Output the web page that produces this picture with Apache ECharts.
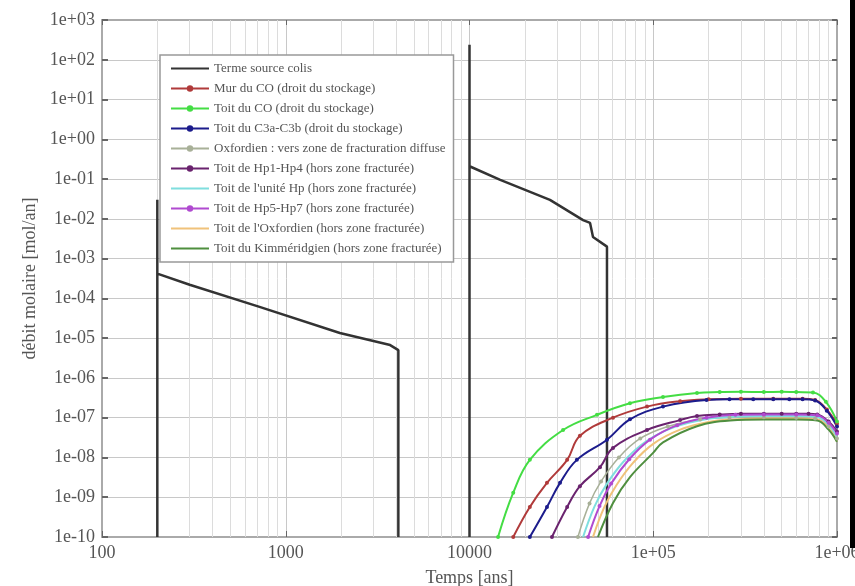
<!DOCTYPE html>
<html><head><meta charset="utf-8">
<script src="https://cdn.jsdelivr.net/npm/echarts@6/dist/echarts.min.js"></script>
<style>html,body{margin:0;padding:0;background:#fff}#c{width:855px;height:586px}</style>
</head><body><div id="c"></div>
<script>
// ---- data (time in years, molar flux in mol/an) ----
const seriesNames = [
  "Terme source colis",
  "Mur du CO (droit du stockage)",
  "Toit du CO (droit du stockage)",
  "Toit du C3a-C3b (droit du stockage)",
  "Oxfordien : vers zone de fracturation diffuse",
  "Toit de Hp1-Hp4 (hors zone fracturée)",
  "Toit de l'unité Hp (hors zone fracturée)",
  "Toit de Hp5-Hp7 (hors zone fracturée)",
  "Toit de l'Oxfordien (hors zone fracturée)",
  "Toit du Kimméridgien (hors zone fracturée)"
];
const sourcePulse1 = [[200,1e-10],[200,3.0e-2],[200,4.2e-4],[300,2.2e-4],[720,6.1e-5],[1970,1.35e-5],[3700,6.7e-6],[4100,5.0e-6],[4100,1e-10]];
const sourcePulse2 = [[10000,1e-10],[10000,2.4e2],[10000,0.21],[14700,0.095],[27400,0.030],[41500,0.0093],[45300,0.0079],[47000,0.0035],[56000,0.0020],[56000,1e-10]];
const murCO = [[17300,1e-10],[21300,5.7e-10],[26400,2.3e-9],[34000,8.7e-9],[39900,3.5e-8],[60400,1.0e-7],[92500,1.9e-7],[140000,2.6e-7],[200000,2.9e-7],[300000,3.0e-7],[450000,3.0e-7],[650000,3.0e-7],[760000,2.8e-7],[880000,1.6e-7],[1000000,7e-8]];
const toitCO = [[14300,1e-10],[17300,1.3e-9],[21300,8.7e-9],[32300,4.9e-8],[49400,1.18e-7],[74700,2.3e-7],[113000,3.3e-7],[173000,4.2e-7],[230000,4.4e-7],[300000,4.5e-7],[400000,4.4e-7],[500000,4.5e-7],[600000,4.4e-7],[740000,4.3e-7],[870000,2.5e-7],[1000000,8e-8]];
const toitC3 = [[21300,1e-10],[26400,5.7e-10],[31100,2.3e-9],[38400,8.7e-9],[56000,2.8e-8],[74700,9.1e-8],[113000,1.9e-7],[195000,2.8e-7],[260000,2.9e-7],[350000,2.9e-7],[450000,2.9e-7],[550000,2.9e-7],[650000,2.9e-7],[760000,2.7e-7],[880000,1.5e-7],[1000000,6e-8]];
const oxfDiffuse = [[38900,1e-10],[45000,7e-10],[52000,2.5e-9],[65000,1e-8],[85000,3e-8],[120000,6e-8],[180000,9e-8],[260000,1.0e-7],[400000,1.02e-7],[600000,1.0e-7],[760000,9.5e-8],[900000,6e-8],[1000000,3e-8]];
const hp1hp4 = [[28100,1e-10],[34000,5.7e-10],[39900,1.9e-9],[51300,5.7e-9],[60400,1.74e-8],[92500,4.9e-8],[140000,8.7e-8],[173000,1.1e-7],[230000,1.2e-7],[300000,1.25e-7],[400000,1.25e-7],[500000,1.25e-7],[600000,1.25e-7],[700000,1.25e-7],[780000,1.2e-7],[900000,8e-8],[1000000,4.5e-8]];
const uniteHp = [[41500,1e-10],[48000,6e-10],[56000,2.2e-9],[70000,8.5e-9],[92000,2.6e-8],[130000,5.8e-8],[190000,9e-8],[270000,1.05e-7],[400000,1.1e-7],[600000,1.1e-7],[770000,1.05e-7],[900000,6.5e-8],[1000000,3e-8]];
const hp5hp7 = [[44200,1e-10],[51000,6e-10],[59000,2.2e-9],[74000,9e-9],[96000,2.8e-8],[135000,6.5e-8],[195000,1.0e-7],[280000,1.18e-7],[400000,1.2e-7],[600000,1.2e-7],[780000,1.15e-7],[900000,7.5e-8],[1000000,4e-8]];
const toitOxf = [[47000,1e-10],[54000,5.5e-10],[63000,2e-9],[78000,7.5e-9],[100000,2.2e-8],[140000,5e-8],[200000,7.8e-8],[280000,9e-8],[400000,9.5e-8],[600000,9.5e-8],[780000,9e-8],[900000,5.5e-8],[1000000,2.5e-8]];
const kimm = [[50000,1e-10],[60400,7.2e-10],[74700,3.2e-9],[99800,1.3e-8],[113000,2.4e-8],[173000,6.1e-8],[262000,8.5e-8],[400000,9e-8],[600000,9e-8],[780000,8.5e-8],[900000,5e-8],[1000000,2.5e-8]];

const xTickLabels = {100:"100",1000:"1000",10000:"10000",100000:"1e+05",1000000:"1e+06"};
const plainSeries = [0, 6, 8, 9]; // legend entries drawn without a marker

// ---- chart ----
const FONT = "'Liberation Serif', 'DejaVu Serif', serif";
function expLabel(v){
  const e = Math.round(Math.log10(v));
  const a = Math.abs(e);
  return "1e" + (e < 0 ? "-" : "+") + (a < 10 ? "0" + a : "" + a);
}
const minorX = [];
for (let k = 2; k < 6; k++) for (let m = 2; m <= 9; m++) minorX.push({xAxis: m * Math.pow(10, k)});

function line(name, data, color, withSymbol, width, smooth){
  return {
    name: name, type: "line", data: data, xAxisIndex: 0, yAxisIndex: 0,
    showSymbol: !!withSymbol, symbol: "circle", symbolSize: 4,
    smooth: smooth || false,
    lineStyle: {color: color, width: width || 2}, itemStyle: {color: color},
    animation: false, silent: true, z: 3
  };
}
const legendData = seriesNames.map(function(n, i){
  return plainSeries.indexOf(i) >= 0 ? {name: n, itemStyle: {opacity: 0}} : {name: n};
});

const chart = echarts.init(document.getElementById("c"), null, {renderer: "canvas"});
chart.setOption({
  backgroundColor: "#fff",
  animation: false,
  grid: {left: 102, right: 18, top: 20, bottom: 49, containLabel: false, outerBoundsMode: "none"},
  legend: {
    data: legendData, orient: "vertical", left: 160, top: 55, z: 50,
    itemWidth: 38, itemHeight: 8, itemGap: 5,
    padding: [6, 8, 6, 10],
    backgroundColor: "#fff", borderColor: "#999", borderWidth: 1.5,
    selectedMode: false,
    textStyle: {fontFamily: FONT, fontSize: 13, lineHeight: 15, color: "#555"}
  },
  xAxis: [{
    type: "log", logBase: 10, min: 100, max: 1000000, splitNumber: 4,
    name: "Temps [ans]", nameLocation: "middle", nameGap: 32,
    nameTextStyle: {fontFamily: FONT, fontSize: 18, color: "#555"},
    axisLine: {show: true, lineStyle: {color: "#aaa", width: 2}},
    axisTick: {show: true, inside: true, length: 6, lineStyle: {color: "#666"}},
    axisLabel: {fontFamily: FONT, fontSize: 18, color: "#555", margin: 7,
      formatter: function(v){ const r = Math.round(v); return xTickLabels[r] || expLabel(v); }},
    splitLine: {show: true, lineStyle: {color: "#c8c8c8", width: 1}}
  },{
    type: "log", logBase: 10, min: 100, max: 1000000, position: "top",
    axisLine: {show: true, lineStyle: {color: "#aaa", width: 2}},
    axisTick: {show: true, inside: true, length: 5, lineStyle: {color: "#666"}},
    axisLabel: {show: false}, splitLine: {show: false}
  }],
  yAxis: [{
    type: "log", logBase: 10, min: 1e-10, max: 1e3, interval: 1,
    name: "débit molaire [mol/an]", nameLocation: "middle", nameGap: 63,
    nameTextStyle: {fontFamily: FONT, fontSize: 18, color: "#555"},
    axisLine: {show: true, lineStyle: {color: "#aaa", width: 2}},
    axisTick: {show: true, inside: true, length: 6, lineStyle: {color: "#666", width: 2}},
    axisLabel: {fontFamily: FONT, fontSize: 18, color: "#555", margin: 7, formatter: expLabel},
    splitLine: {show: true, lineStyle: {color: "#c8c8c8", width: 1}}
  },{
    type: "log", logBase: 10, min: 1e-10, max: 1e3, interval: 1, position: "right",
    axisLine: {show: true, lineStyle: {color: "#aaa", width: 2}},
    axisTick: {show: true, inside: true, length: 5, lineStyle: {color: "#666", width: 2}},
    axisLabel: {show: false}, splitLine: {show: false}
  }],
  series: [
    {type: "line", data: [], silent: true, animation: false, z: 1,
      markLine: {silent: true, symbol: "none", label: {show: false}, z: 1,
        lineStyle: {color: "#dcdcdc", width: 1, type: "solid"}, data: minorX}},
    line(seriesNames[0], sourcePulse1, "#333", false, 2.5),
    line(seriesNames[0], sourcePulse2, "#333", false, 2.5),
    line(seriesNames[1], murCO, "#b03a3a", true, 2, 0.4),
    line(seriesNames[2], toitCO, "#44dd44", true, 2, 0.4),
    line(seriesNames[3], toitC3, "#1c1c8c", true, 2, 0.4),
    line(seriesNames[4], oxfDiffuse, "#a8b098", true, 1.5, 0.4),
    line(seriesNames[5], hp1hp4, "#6a236e", true, 2, 0.4),
    line(seriesNames[6], uniteHp, "#7fdede", false, 2, 0.4),
    line(seriesNames[7], hp5hp7, "#b04ad0", true, 2, 0.4),
    line(seriesNames[8], toitOxf, "#f0c27a", false, 2, 0.4),
    line(seriesNames[9], kimm, "#4f8f3f", false, 2, 0.4)
  ],
  graphic: [{type: "rect", shape: {x: 850, y: 0, width: 5, height: 548}, style: {fill: "#000"}, z: 100}]
});
</script></body></html>
